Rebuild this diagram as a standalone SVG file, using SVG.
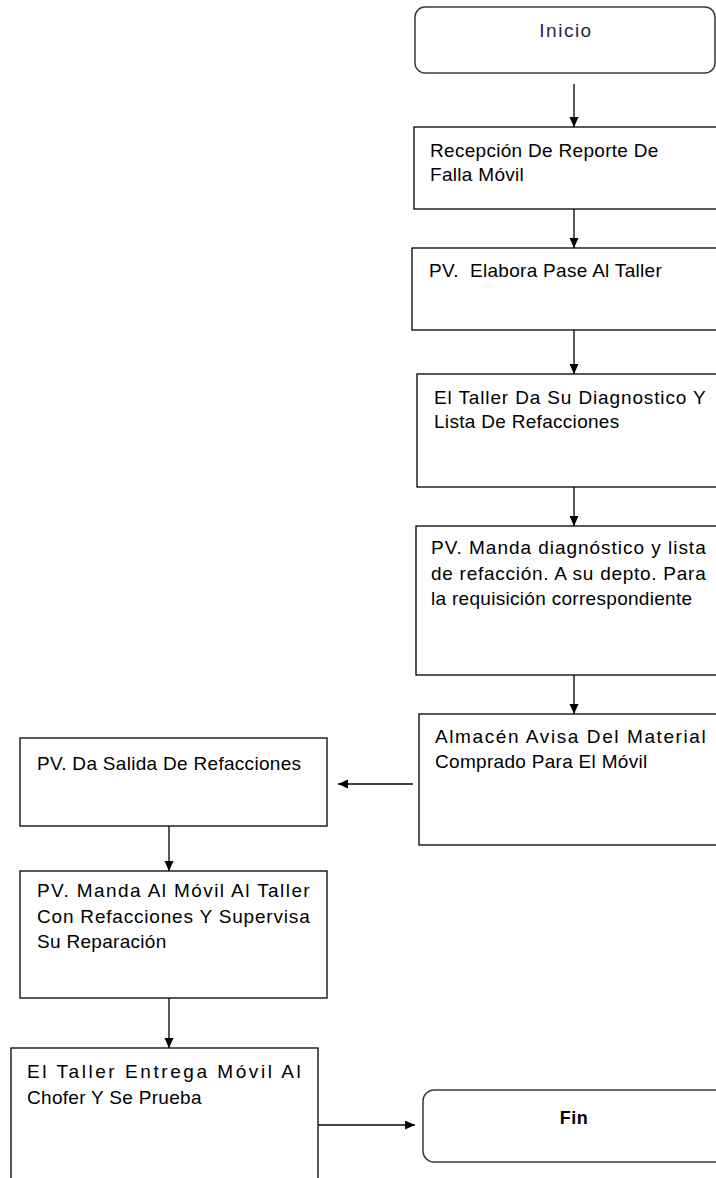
<svg xmlns="http://www.w3.org/2000/svg" width="716" height="1178" viewBox="0 0 716 1178">
<style>
.box{fill:#fff;stroke:#000;stroke-width:1.3}
.term{fill:#fff;stroke:#3a3a3a;stroke-width:1.5}
.t{font-family:"Liberation Sans",Arial,sans-serif;font-size:19px;letter-spacing:0.3px;fill:#000}
.ti{font-family:"Liberation Sans",Arial,sans-serif;font-size:19px;letter-spacing:1.5px;fill:#26263a;text-anchor:middle}
.tf{font-family:"Liberation Sans",Arial,sans-serif;font-size:18px;font-weight:bold;letter-spacing:0.5px;fill:#000;text-anchor:middle}
.c{stroke:#000;stroke-width:1.3;fill:none;marker-end:url(#ah)}
</style>
<defs>
<marker id="ah" markerUnits="userSpaceOnUse" markerWidth="11" markerHeight="10" refX="10" refY="4.5" orient="auto">
<path d="M0,0 L10,4.5 L0,9 Z" fill="#000"/>
</marker>
</defs>
<rect width="716" height="1178" fill="#fff"/>
<g id="connectors">
<line class="c" x1="574" y1="84" x2="574" y2="127"/>
<line class="c" x1="574" y1="209" x2="574" y2="248"/>
<line class="c" x1="574" y1="330" x2="574" y2="374"/>
<line class="c" x1="574" y1="487" x2="574" y2="526"/>
<line class="c" x1="574" y1="675" x2="574" y2="714"/>
<line class="c" x1="413" y1="784" x2="338" y2="784"/>
<line class="c" x1="169" y1="826" x2="169" y2="871"/>
<line class="c" x1="169" y1="998" x2="169" y2="1048"/>
<line class="c" x1="318" y1="1125" x2="415" y2="1125"/>
</g>
<g id="inicio">
<rect class="term" x="415" y="7" width="300" height="66" rx="10"/>
<text class="ti" x="566" y="37">Inicio</text>
</g>
<g id="recepcion">
<rect class="box" x="414" y="127" width="320" height="82"/>
<text class="t" x="430" y="157">Recepción De Reporte De</text>
<text class="t" x="430" y="181">Falla Móvil</text>
</g>
<g id="elabora">
<rect class="box" x="412" y="248" width="320" height="82"/>
<text class="t" x="429" y="277" xml:space="preserve">PV.  Elabora Pase Al Taller</text>
</g>
<g id="diagnostico">
<rect class="box" x="417" y="374" width="320" height="113"/>
<text class="t" x="434" y="404" textLength="272" lengthAdjust="spacing">El Taller Da Su Diagnostico Y</text>
<text class="t" x="434" y="428">Lista De Refacciones</text>
</g>
<g id="manda">
<rect class="box" x="416" y="526" width="320" height="149"/>
<text class="t" x="431" y="554" textLength="275" lengthAdjust="spacing">PV. Manda diagnóstico y lista</text>
<text class="t" x="431" y="580" textLength="275" lengthAdjust="spacing">de refacción. A su depto. Para</text>
<text class="t" x="431" y="605">la requisición correspondiente</text>
</g>
<g id="almacen">
<rect class="box" x="419" y="714" width="320" height="131"/>
<text class="t" x="435" y="743" textLength="271" lengthAdjust="spacing">Almacén Avisa Del Material</text>
<text class="t" x="435" y="768">Comprado Para El Móvil</text>
</g>
<g id="salida">
<rect class="box" x="20" y="738" width="307" height="88"/>
<text class="t" x="37" y="770">PV. Da Salida De Refacciones</text>
</g>
<g id="supervisa">
<rect class="box" x="20" y="871" width="307" height="127"/>
<text class="t" x="37" y="897" textLength="273" lengthAdjust="spacing">PV. Manda Al Móvil Al Taller</text>
<text class="t" x="37" y="923" textLength="273" lengthAdjust="spacing">Con Refacciones Y Supervisa</text>
<text class="t" x="37" y="948">Su Reparación</text>
</g>
<g id="entrega">
<rect class="box" x="11" y="1048" width="307" height="150"/>
<text class="t" x="27" y="1078" textLength="274" lengthAdjust="spacing">El Taller Entrega Móvil Al</text>
<text class="t" x="27" y="1104">Chofer Y Se Prueba</text>
</g>
<g id="fin">
<rect class="term" x="423" y="1090" width="310" height="72" rx="11"/>
<text class="tf" x="574" y="1124">Fin</text>
</g>
</svg>
